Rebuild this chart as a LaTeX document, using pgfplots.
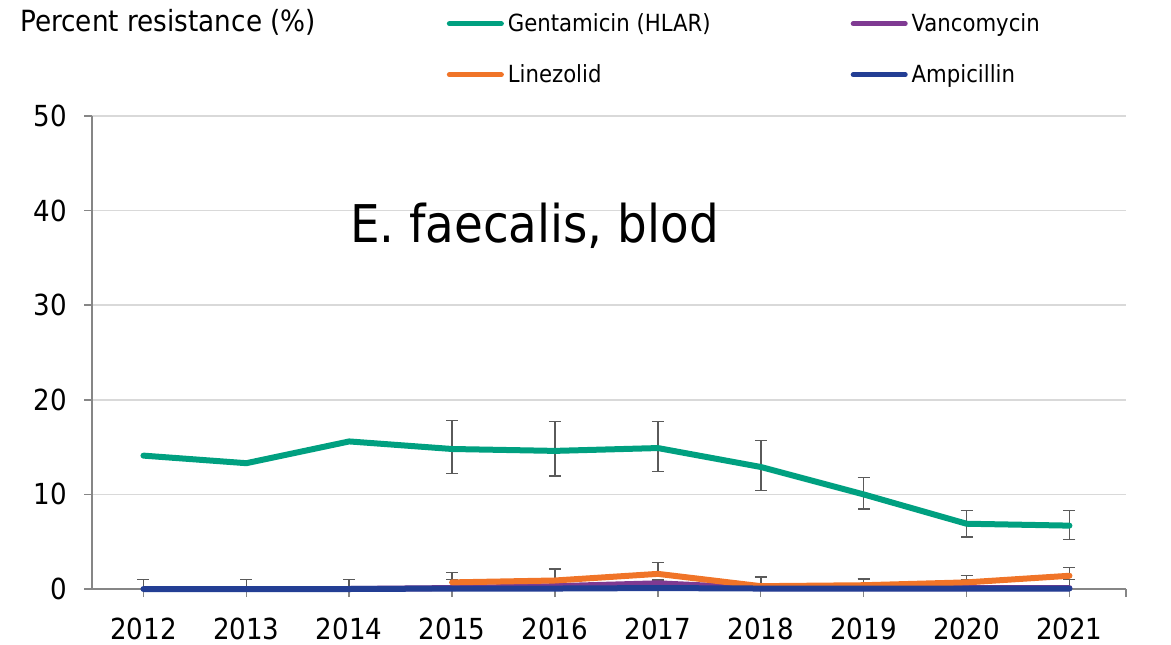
\documentclass[border=0pt]{standalone}
\usepackage{pgfplots}
\pgfplotsset{compat=1.18}
\usepackage{fontspec}
\setmainfont{DejaVu Sans Condensed}
\definecolor{gent}{RGB}{0,160,128}
\definecolor{vanc}{RGB}{127,58,146}
\definecolor{line}{RGB}{240,116,40}
\definecolor{ampi}{RGB}{35,62,148}
\definecolor{axgray}{RGB}{134,134,134}
\definecolor{gridgray}{RGB}{217,217,217}
\definecolor{errgray}{RGB}{90,90,90}
\begin{document}
\begin{tikzpicture}[x=0.5pt,y=0.5pt]
\useasboundingbox (0,0) rectangle (1171,644);
\begin{axis}[
  at={(46pt,27.5pt)}, anchor=south west,
  scale only axis, width=517pt, height=236.5pt,
  xmin=2011.5, xmax=2021.55, ymin=0, ymax=50,
  axis x line*=bottom, axis y line*=left,
  axis line style={axgray, line width=0.75pt},
  xtick={2012,...,2021}, ytick={0,10,...,50},
  extra x ticks={2021.55}, extra x tick labels={},
  tick align=outside, major tick length=4pt,
  tick style={axgray, line width=0.75pt},
  ymajorgrids, grid style={gridgray, line width=0.75pt},
  /pgf/number format/assume math mode=true,
  /pgf/number format/1000 sep={},
  ticklabel style={font=\fontsize{14.5pt}{16pt}\selectfont},
  xticklabel style={yshift=-7pt},
  yticklabel style={xshift=-5pt},
  legend style={draw=none, fill=none, at={(0.337,1.235)}, anchor=north west,
    font=\fontsize{11.8pt}{13pt}\selectfont, row sep=11pt,
    /tikz/every even column/.append style={column sep=68pt}},
  legend columns=2, legend cell align=left,
  legend image code/.code={\draw[line width=2.5pt, line cap=round] (0pt,0pt) -- (26pt,0pt);},
  clip=false,
  error bars/y dir=both, error bars/y explicit,
  error bars/error bar style={errgray, line width=0.75pt},
  error bars/error mark options={rotate=90, errgray, mark size=3pt, line width=0.75pt},
]
% error bars drawn first
\addplot[draw=none, forget plot] coordinates {
 (2015,14.8) += (0,3.0) -= (0,2.6)
 (2016,14.6) += (0,3.1) -= (0,2.65)
 (2017,14.9) += (0,2.8) -= (0,2.5)
 (2018,12.9) += (0,2.8) -= (0,2.5)
 (2019,10.0) += (0,1.8) -= (0,1.55)
 (2020,6.9) += (0,1.4) -= (0,1.4)
 (2021,6.7) += (0,1.6) -= (0,1.45)
};
\addplot[draw=none, forget plot, error bars/y dir=plus] coordinates {
 (2015,0.7) += (0,1.07) -= (0,0)
 (2016,0.9) += (0,1.2) -= (0,0)
 (2017,1.6) += (0,1.2) -= (0,0)
 (2018,0.3) += (0,0.95) -= (0,0)
 (2019,0.4) += (0,0.67) -= (0,0)
 (2020,0.7) += (0,0.72) -= (0,0)
 (2021,1.4) += (0,0.9) -= (0,0)
};
\addplot[draw=none, forget plot, error bars/y dir=plus] coordinates {
 (2012,0) += (0,1.0) -= (0,0)
 (2013,0) += (0,1.0) -= (0,0)
 (2014,0) += (0,1.0) -= (0,0)
 (2015,0.1) += (0,0.9) -= (0,0)
 (2016,0.1) += (0,0.45) -= (0,0)
 (2017,0.1) += (0,0.87) -= (0,0)
 (2018,0.1) += (0,1.1) -= (0,0)
 (2019,0.1) += (0,0.95) -= (0,0)
 (2020,0.1) += (0,0.9) -= (0,0)
 (2021,0.1) += (0,0.9) -= (0,0)
};
% lines
\addplot[gent, line width=3pt, line cap=round, line join=round, mark=none] coordinates {
 (2012,14.1) (2013,13.3) (2014,15.6) (2015,14.8) (2016,14.6) (2017,14.9) (2018,12.9) (2019,10.0) (2020,6.9) (2021,6.7)};
\addlegendentry{Gentamicin (HLAR)}
\addplot[vanc, line width=3pt, line cap=round, line join=round, mark=none] coordinates {
 (2014,0.0) (2015,0.1) (2016,0.3) (2017,0.6) (2018,0.1) (2019,0.1) (2020,0.1) (2021,0.1)};
\addlegendentry{Vancomycin}
\addplot[line, line width=3pt, line cap=round, line join=round, mark=none] coordinates {
 (2015,0.7) (2016,0.9) (2017,1.6) (2018,0.3) (2019,0.4) (2020,0.7) (2021,1.4)};
\addlegendentry{Linezolid}
\addplot[ampi, line width=3pt, line cap=round, line join=round, mark=none] coordinates {
 (2012,0.0) (2013,0.0) (2014,0.0) (2015,0.05) (2016,0.05) (2017,0.1) (2018,0.05) (2019,0.05) (2020,0.05) (2021,0.05)};
\addlegendentry{Ampicillin}
\node[font=\fontsize{26pt}{29pt}\selectfont] at (axis cs:2015.8,38.4) {E. faecalis, blod};
\end{axis}
\node[anchor=west, font=\fontsize{14.6pt}{16pt}\selectfont, inner sep=0pt] at (20,622) {Percent resistance (\%)};
\end{tikzpicture}
\end{document}
